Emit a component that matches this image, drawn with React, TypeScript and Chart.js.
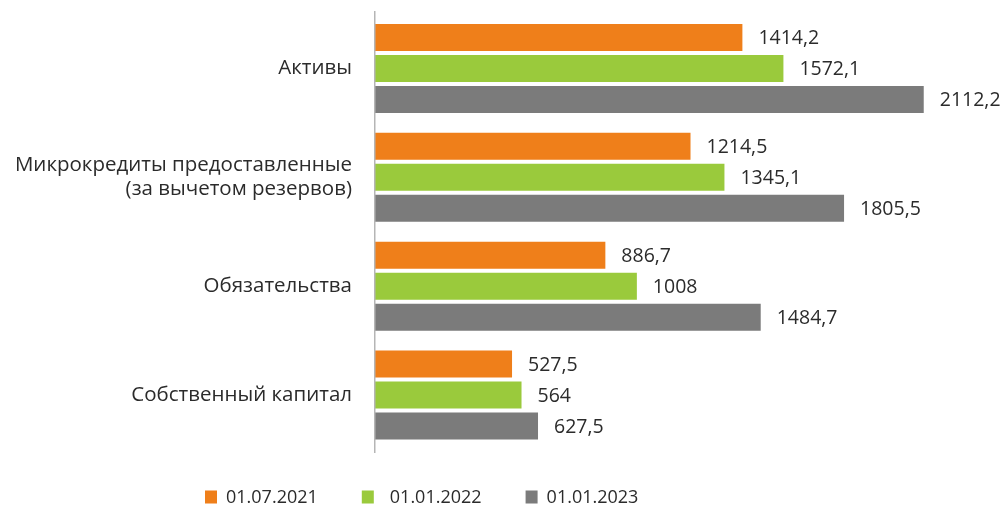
import React, { useEffect, useRef } from "react";
import { Chart, registerables } from "chart.js";

Chart.register(...registerables);

const categories: (string | string[])[] = [
  "Активы",
  ["Микрокредиты предоставленные", "(за вычетом резервов)"],
  "Обязательства",
  "Собственный капитал",
];
const seriesLabels = ["01.07.2021", "01.01.2022", "01.01.2023"];
const values2021 = [1414.2, 1214.5, 886.7, 527.5];
const values2022 = [1572.1, 1345.1, 1008, 564];
const values2023 = [2112.2, 1805.5, 1484.7, 627.5];
const colors = ["#EF7F1A", "#9ACA3C", "#7B7B7B"];

const FONT = "'Open Sans', sans-serif";
const TEXT = "#2b2b2b";

const fmt = (v: number) => String(v).replace(".", ",");

const valueLabels = {
  id: "valueLabels",
  afterDatasetsDraw(chart: any) {
    const ctx = chart.ctx;
    ctx.save();
    ctx.font = `19.5px ${FONT}`;
    ctx.fillStyle = TEXT;
    ctx.textAlign = "left";
    ctx.textBaseline = "middle";
    chart.data.datasets.forEach((ds: any, i: number) => {
      const meta = chart.getDatasetMeta(i);
      meta.data.forEach((bar: any, j: number) => {
        ctx.fillText(fmt(ds.data[j]), bar.x + 16, bar.y + 1);
      });
    });
    ctx.restore();
  },
};

const axisLine = {
  id: "axisLine",
  afterDraw(chart: any) {
    const { ctx, chartArea } = chart;
    ctx.save();
    ctx.strokeStyle = "#b5b5b5";
    ctx.lineWidth = 1.5;
    ctx.beginPath();
    ctx.moveTo(chartArea.left - 0.25, chartArea.top - 3);
    ctx.lineTo(chartArea.left - 0.25, chartArea.bottom + 3.5);
    ctx.stroke();
    ctx.restore();
  },
};

const customLegend = {
  id: "customLegend",
  afterDraw(chart: any) {
    const ctx = chart.ctx;
    ctx.save();
    ctx.font = `18px ${FONT}`;
    ctx.textBaseline = "middle";
    ctx.textAlign = "left";
    let x = 205;
    const y = 497;
    chart.data.datasets.forEach((ds: any, i: number) => {
      ctx.fillStyle = ds.backgroundColor;
      ctx.fillRect(x, y - 6.5, 12, 13);
      ctx.fillStyle = TEXT;
      const tx = x + 21 + (i === 1 ? 7 : 0);
      ctx.fillText(ds.label, tx, y + 1);
      const w = ctx.measureText(ds.label).width;
      x = tx + w + 44;
    });
    ctx.restore();
  },
};

export default function App() {
  const ref = useRef<HTMLCanvasElement>(null);
  useEffect(() => {
    document.body.style.margin = "0";
    const chart = new Chart(ref.current!, {
      type: "bar",
      data: {
        labels: categories,
        datasets: [values2021, values2022, values2023].map((d, i) => ({
          label: seriesLabels[i],
          data: d,
          backgroundColor: colors[i],
          categoryPercentage: 0.855,
          barPercentage: 0.871,
        })),
      },
      options: {
        indexAxis: "y",
        animation: false,
        responsive: false,
        layout: { padding: { top: 14, bottom: 59.5, right: 4.5, left: 0 } },
        plugins: {
          legend: { display: false },
          tooltip: { enabled: false },
        },
        scales: {
          x: { display: false, min: 0, max: 2400 },
          y: {
            grid: { display: false, drawTicks: true, tickLength: 23 },
            border: { display: false },
            ticks: {
              color: TEXT,
              font: { family: FONT, size: 20.5, lineHeight: 1.17 },
              padding: 0,
            },
            afterFit(scale: any) {
              scale.width = 375;
            },
          },
        },
      },
      plugins: [valueLabels, axisLine, customLegend],
    });
    return () => chart.destroy();
  }, []);
  return <canvas ref={ref} width={1003} height={509} style={{ display: "block" }} />;
}
